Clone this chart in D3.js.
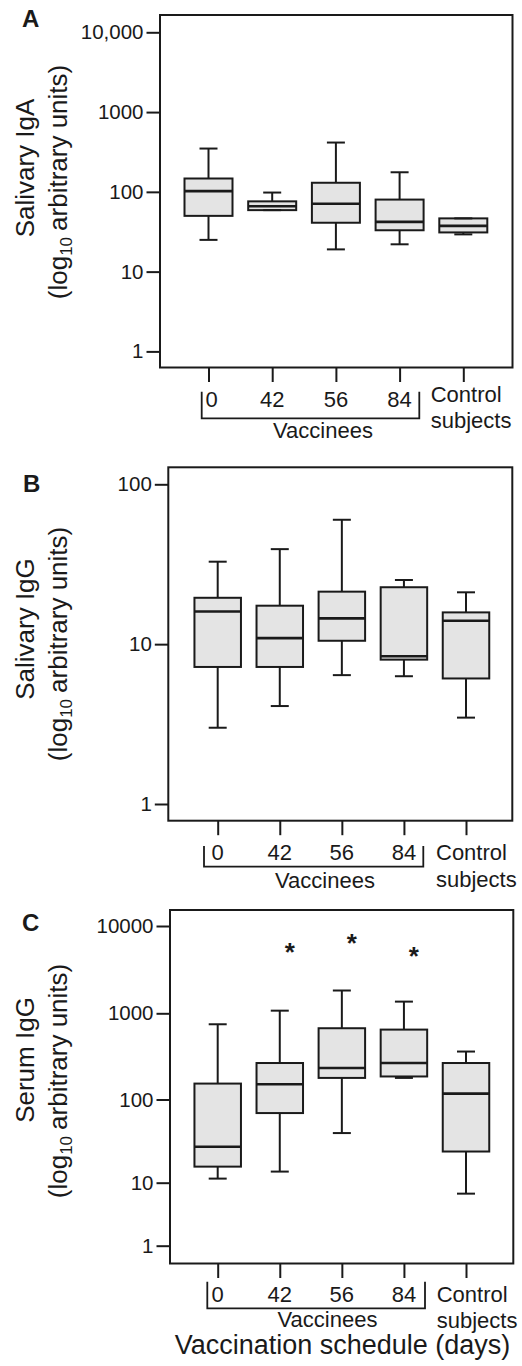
<!DOCTYPE html>
<html>
<head>
<meta charset="utf-8">
<script src="https://cdnjs.cloudflare.com/ajax/libs/d3/7.8.5/d3.min.js"></script>
<style>
  body { margin: 0; background: #fff; }
  svg { display: block; font-family: "Liberation Sans", Arial, sans-serif; }
</style>
</head>
<body>
<svg id="chart" width="522" height="1366"></svg>
<script>
// DATA
const categories = ["0", "42", "56", "84", "Control"];   // groups on the x axis
const vaccineeDays = ["0", "42", "56", "84"];           // groups under the "Vaccinees" bracket

// Five-number summaries per group: [min, q1, median, q3, max]
const salivaryIgA = [
    [25, 50, 102, 147, 349],
    [59, 59, 66, 76, 98],
    [19, 41, 71, 130, 415],
    [22, 33, 42, 80, 176],
    [29.3, 31, 37.5, 46.5, 46.5]
];
const salivaryIgG = [
    [3.0, 7.2, 16, 19.5, 32.8],
    [4.1, 7.2, 10.9, 17.4, 39.3],
    [6.4, 10.5, 14.5, 21.3, 60],
    [6.3, 8.0, 8.4, 22.7, 25.2],
    [3.47, 6.1, 14.0, 15.8, 21.1]
];
const serumIgG = [
    [11.2, 15.6, 27, 153, 746],
    [13.6, 68.7, 150, 265, 1072],
    [39.5, 178, 232, 671, 1824],
    [178, 185, 265, 647, 1361],
    [6.7, 23.7, 117, 265, 360]
];

// Significance markers on serum IgG (group, value where the star sits)
const serumStars = [
    {group: "42", value: 5800},
    {group: "56", value: 7540},
    {group: "84", value: 5310}
];

// Tick values and their labels
const ticksIgA = [1, 10, 100, 1000, 10000];
const tickLabelsIgA = ["1", "10", "100", "1000", "10,000"];
const ticksSalivaryIgG = [1, 10, 100];
const tickLabelsSalivaryIgG = ["1", "10", "100"];
const ticksSerumIgG = [1, 10, 100, 1000, 10000];
const tickLabelsSerumIgG = ["1", "10", "100", "1000", "10000"];

// LAYOUT
const ink = "#1a1a1a";
const svg = d3.select("#chart");

const panels = [
    {
        letter: "A", letterX: 22, letterY: 27,
        title: "Salivary IgA", titleY: 168, unitsY: 182,
        data: salivaryIgA, ticks: ticksIgA, tickLabels: tickLabelsIgA,
        frame: {x0: 160, x1: 512.5, y0: 15, y1: 367.5},
        // the scanned axis is evenly spaced per decade here
        y: d3.scaleLog().domain([1, 10000]).range([351.4, 32.3]),
        xRange: [208.5, 463.3], boxWidth: 48, zeroDx: 3,
        bracket: {left: 201.7, right: 419.3, top: 391.7, bottom: 418.3},
        labelY: 406.7, controlY: 401.7, subjectsY: 428, ctrlX: 430.7,
        vaccX: 323, vaccY: 438.3
    },
    {
        letter: "B", letterX: 23, letterY: 491.5,
        title: "Salivary IgG", titleY: 629, unitsY: 644,
        data: salivaryIgG, ticks: ticksSalivaryIgG, tickLabels: tickLabelsSalivaryIgG,
        frame: {x0: 168.3, x1: 512.3, y0: 467.3, y1: 820.7},
        y: d3.scaleLog().domain([1, 100]).range([804, 484.3]),
        xRange: [217.7, 466], boxWidth: 46.5, zeroDx: 0,
        bracket: {left: 204, right: 423.3, top: 846, bottom: 866.7},
        labelY: 859.5, controlY: 860, subjectsY: 886.5, ctrlX: 436,
        vaccX: 325, vaccY: 887.7
    },
    {
        letter: "C", letterX: 22, letterY: 931,
        title: "Serum IgG", titleY: 1060, unitsY: 1081,
        data: serumIgG, ticks: ticksSerumIgG, tickLabels: tickLabelsSerumIgG,
        frame: {x0: 170, x1: 513.3, y0: 910, y1: 1263.5},
        // the printed decades in panel C are not evenly spaced, so use a piecewise log scale
        y: d3.scaleLog().domain([1, 10, 100, 1000, 10000]).range([1245.7, 1182.7, 1099.5, 1013.3, 926]),
        xRange: [217.7, 466], boxWidth: 46.5, zeroDx: 0,
        bracket: {left: 207.3, right: 425, top: 1281.7, bottom: 1308.3},
        labelY: 1301.7, controlY: 1301.7, subjectsY: 1327.5, ctrlX: 436.7,
        vaccX: 327.5, vaccY: 1326.7,
        stars: serumStars
    }
];

// FUNCTION DEFINITIONS
// Draw one panel: frame, axes, boxes and the group labels
const drawPanel = (p) => {
    const g = svg.append("g");
    const x = d3.scalePoint().domain(categories).range(p.xRange);
    const capWidth = 18;

    // Y axis
    const yAxis = g.append("g")
        .attr("transform", `translate(${p.frame.x0},0)`)
        .call(d3.axisLeft(p.y)
            .tickValues(p.ticks)
            .tickFormat((d, i) => p.tickLabels[i])
            .tickSize(13.5)
            .tickPadding(3));

    // X axis (ticks only, labels drawn below)
    const xAxis = g.append("g")
        .attr("transform", `translate(0,${p.frame.y1})`)
        .call(d3.axisBottom(x).tickFormat("").tickSize(14.5));

    [yAxis, xAxis].forEach(axis => {
        axis.select(".domain").remove();
        axis.selectAll(".tick line").attr("stroke", ink).attr("stroke-width", 2);
        axis.selectAll(".tick text")
            .attr("fill", ink)
            .style("font-size", "20.5px")
            .style("font-family", "'Liberation Sans', Arial, sans-serif");
    });

    // Frame
    g.append("rect")
        .attr("x", p.frame.x0)
        .attr("y", p.frame.y0)
        .attr("width", p.frame.x1 - p.frame.x0)
        .attr("height", p.frame.y1 - p.frame.y0)
        .attr("fill", "none")
        .attr("stroke", ink)
        .attr("stroke-width", 2);

    // Boxes
    const boxes = g.append("g")
        .selectAll("g")
        .data(p.data.map((s, i) => ({group: categories[i], min: s[0], q1: s[1], med: s[2], q3: s[3], max: s[4]})))
        .enter().append("g")
        .attr("transform", d => `translate(${x(d.group)},0)`);

    boxes.append("line")
        .attr("y1", d => p.y(d.max))
        .attr("y2", d => p.y(d.min))
        .attr("stroke", ink)
        .attr("stroke-width", 2);

    boxes.append("rect")
        .attr("x", -p.boxWidth / 2)
        .attr("width", p.boxWidth)
        .attr("y", d => p.y(d.q3))
        .attr("height", d => p.y(d.q1) - p.y(d.q3))
        .attr("fill", "#e4e4e4")
        .attr("stroke", ink)
        .attr("stroke-width", 2);

    boxes.append("line")
        .attr("x1", -p.boxWidth / 2)
        .attr("x2", p.boxWidth / 2)
        .attr("y1", d => p.y(d.med))
        .attr("y2", d => p.y(d.med))
        .attr("stroke", ink)
        .attr("stroke-width", 2.6);

    ["min", "max"].forEach(key => {
        boxes.append("line")
            .attr("x1", -capWidth / 2)
            .attr("x2", capWidth / 2)
            .attr("y1", d => p.y(d[key]))
            .attr("y2", d => p.y(d[key]))
            .attr("stroke", ink)
            .attr("stroke-width", 2);
    });

    // Significance stars
    if (p.stars) {
        g.append("g")
            .selectAll("text")
            .data(p.stars)
            .enter().append("text")
            .attr("x", d => x(d.group) + 10)
            .attr("y", d => p.y(d.value))
            .attr("dy", "0.57em")
            .attr("text-anchor", "middle")
            .attr("fill", ink)
            .style("font-size", "26px")
            .style("font-weight", "bold")
            .text("*");
    }

    // Group labels under the axis
    g.append("g")
        .selectAll("text")
        .data(vaccineeDays)
        .enter().append("text")
        .attr("x", d => x(d) + (d === "0" ? p.zeroDx : 0))
        .attr("y", p.labelY)
        .attr("text-anchor", "middle")
        .attr("fill", ink)
        .style("font-size", "22px")
        .text(d => d);

    g.append("text")
        .attr("x", p.ctrlX)
        .attr("y", p.controlY)
        .attr("fill", ink)
        .style("font-size", "22px")
        .text("Control");

    g.append("text")
        .attr("x", p.ctrlX)
        .attr("y", p.subjectsY)
        .attr("fill", ink)
        .style("font-size", "22px")
        .text("subjects");

    // Vaccinees bracket
    const b = p.bracket;
    g.append("path")
        .attr("d", `M${b.left},${b.top}V${b.bottom}H${b.right}V${b.top}`)
        .attr("fill", "none")
        .attr("stroke", ink)
        .attr("stroke-width", 1.8);

    g.append("text")
        .attr("x", p.vaccX)
        .attr("y", p.vaccY)
        .attr("text-anchor", "middle")
        .attr("fill", ink)
        .style("font-size", "22px")
        .text("Vaccinees");

    // Y axis title, two rotated lines
    g.append("text")
        .attr("transform", `translate(33.5,${p.titleY}) rotate(-90)`)
        .attr("text-anchor", "middle")
        .attr("fill", ink)
        .style("font-size", "26px")
        .text(p.title);

    const units = g.append("text")
        .attr("transform", `translate(67,${p.unitsY}) rotate(-90)`)
        .attr("text-anchor", "middle")
        .attr("fill", ink)
        .style("font-size", "26px");
    units.append("tspan").text("(log");
    units.append("tspan").attr("dy", 5).style("font-size", "17px").text("10");
    units.append("tspan").attr("dy", -5).attr("dx", 6).text("arbitrary units)");

    // Panel letter
    g.append("text")
        .attr("x", p.letterX)
        .attr("y", p.letterY)
        .attr("fill", ink)
        .style("font-size", "24px")
        .style("font-weight", "bold")
        .text(p.letter);
};

panels.forEach(drawPanel);

// Shared x axis title under the last panel
svg.append("text")
    .attr("x", 342.5)
    .attr("y", 1354)
    .attr("text-anchor", "middle")
    .attr("fill", ink)
    .style("font-size", "27px")
    .text("Vaccination schedule (days)");
</script>
</body>
</html>
